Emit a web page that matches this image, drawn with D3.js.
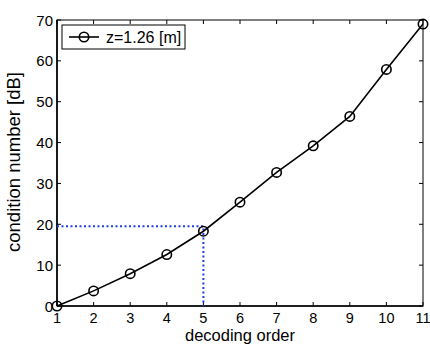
<!DOCTYPE html>
<html><head><meta charset="utf-8">
<script src="https://cdn.jsdelivr.net/npm/d3@7"></script>
<style>body{margin:0;background:#fff}svg{display:block}text{font-family:"Liberation Sans",Arial,sans-serif}</style>
</head><body><svg id="c" width="430" height="344"></svg>
<script>
const orders = [1,2,3,4,5,6,7,8,9,10,11];
const condDB = [0,3.7,7.9,12.6,18.3,25.4,32.7,39.2,46.4,57.9,69.0];
const xTicks = [1,2,3,4,5,6,7,8,9,10,11];
const yTicks = [0,10,20,30,40,50,60,70];
const refX = 5, refY = 19.5;
const legendLabel = "z=1.26 [m]";

const svg = d3.select("#c");
const L=57,R=423,T=20,B=306;
const x = d3.scaleLinear().domain([1,11]).range([L,R]);
const y = d3.scaleLinear().domain([0,70]).range([B,T]);
const tl=4;
svg.append("rect").attr("x",L).attr("y",T).attr("width",R-L).attr("height",B-T).attr("fill","none").attr("stroke","#000").attr("stroke-width",1);
svg.append("line").attr("x1",L).attr("x2",L).attr("y1",T).attr("y2",B).attr("stroke","#000").attr("stroke-width",1.6);
svg.append("line").attr("x1",L).attr("x2",R).attr("y1",B).attr("y2",B).attr("stroke","#000").attr("stroke-width",1.6);
const g = svg.append("g").attr("stroke","#000").attr("stroke-width",1);
xTicks.forEach(t=>{
  g.append("line").attr("x1",x(t)).attr("x2",x(t)).attr("y1",B).attr("y2",B-tl);
  g.append("line").attr("x1",x(t)).attr("x2",x(t)).attr("y1",T).attr("y2",T+tl);
});
yTicks.forEach(t=>{
  g.append("line").attr("x1",L).attr("x2",L+tl).attr("y1",y(t)).attr("y2",y(t));
  g.append("line").attr("x1",R).attr("x2",R-tl).attr("y1",y(t)).attr("y2",y(t));
});
svg.append("g").selectAll("text").data(xTicks).join("text")
  .attr("x",d=>x(d)).attr("y",322.5).attr("text-anchor","middle").attr("font-size",14.5).text(d=>d);
svg.append("g").selectAll("text").data(yTicks).join("text")
  .attr("x",L-4).attr("y",d=>y(d)+5.5).attr("text-anchor","end").attr("font-size",15).text(d=>d);
svg.append("text").attr("x",240).attr("y",340.5).attr("text-anchor","middle").attr("font-size",16.5).text("decoding order");
svg.append("text").attr("transform","translate(20,162) rotate(-90)").attr("text-anchor","middle").attr("font-size",18.5).text("condition number [dB]");
svg.append("path").attr("d",`M${x(1)},${y(refY)}H${x(refX)}V${y(0)}`).attr("fill","none")
  .attr("stroke","#1f3fe0").attr("stroke-width",2).attr("stroke-dasharray","2,2.5");
const line = d3.line().x((d,i)=>x(orders[i])).y(d=>y(d));
svg.append("path").datum(condDB).attr("d",line).attr("fill","none").attr("stroke","#000").attr("stroke-width",1.6);
svg.append("g").selectAll("circle").data(condDB).join("circle")
  .attr("cx",(d,i)=>x(orders[i])).attr("cy",d=>y(d)).attr("r",4.7)
  .attr("fill","none").attr("stroke","#000").attr("stroke-width",1.6);
const lg = svg.append("g");
lg.append("rect").attr("x",62).attr("y",25).attr("width",123).attr("height",24).attr("fill","#fff").attr("stroke","#000").attr("stroke-width",1);
lg.append("line").attr("x1",69).attr("x2",99).attr("y1",37).attr("y2",37).attr("stroke","#000").attr("stroke-width",1.6);
lg.append("circle").attr("cx",84).attr("cy",37).attr("r",4.7).attr("fill","none").attr("stroke","#000").attr("stroke-width",1.6);
lg.append("text").attr("x",106).attr("y",42.5).attr("font-size",16).text(legendLabel);
</script></body></html>
